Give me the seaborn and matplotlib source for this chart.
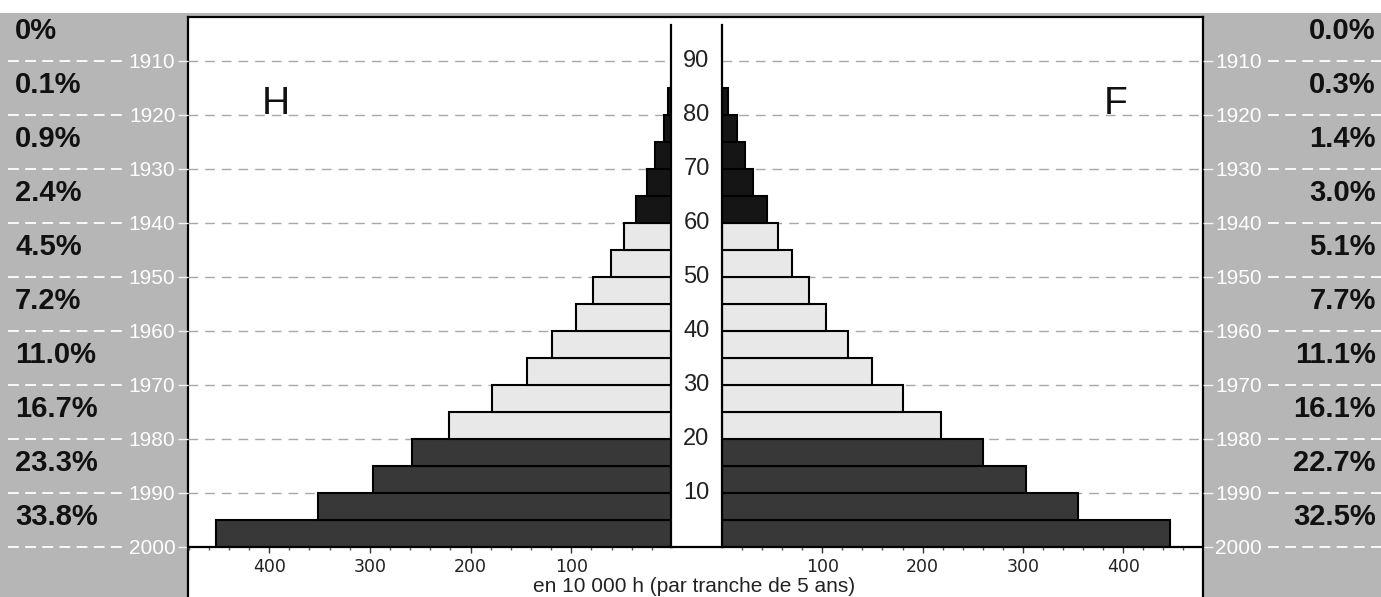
import numpy as np
import pandas as pd
import matplotlib
matplotlib.use('Agg')
import matplotlib.pyplot as plt
import seaborn as sns
from matplotlib import font_manager
from matplotlib.transforms import blended_transform_factory
from matplotlib.lines import Line2D
from matplotlib.patches import Rectangle

# tranches d'age de 5 ans (debut de tranche), effectifs en 10 000 h
debut_tranche = [0, 5, 10, 15, 20, 25, 30, 35, 40, 45, 50, 55, 60, 65, 70, 75, 80]
hommes = [453, 352, 297, 258, 221, 179, 144, 119, 95, 78, 61, 48, 36, 25, 17, 8, 4]
femmes = [447, 355, 303, 260, 218, 180, 150, 126, 104, 87, 70, 56, 45, 31, 23, 15, 6]
groupe = ['0-19 ans'] * 4 + ['20-59 ans'] * 8 + ['60 ans et +'] * 5

# reperes : age et annee de naissance
ages_reperes = [0, 10, 20, 30, 40, 50, 60, 70, 80, 90]
annees = ['2000', '1990', '1980', '1970', '1960', '1950', '1940', '1930', '1920', '1910']

# pourcentages par decennie (du haut vers le bas)
decennies = [90, 80, 70, 60, 50, 40, 30, 20, 10, 0]
pct_hommes = ['0%', '0.1%', '0.9%', '2.4%', '4.5%', '7.2%', '11.0%', '16.7%', '23.3%', '33.8%']
pct_femmes = ['0.0%', '0.3%', '1.4%', '3.0%', '5.1%', '7.7%', '11.1%', '16.1%', '22.7%', '32.5%']

df = pd.DataFrame({'debut': debut_tranche, 'hommes': hommes,
                   'femmes': femmes, 'groupe': groupe})
df['milieu'] = df['debut'] + 2.5

couleurs = {'0-19 ans': '#383838', '20-59 ans': '#e8e8e8', '60 ans et +': '#151515'}
gris = '#b6b6b6'

sns.set_theme(style='ticks')
installees = {f.name for f in font_manager.fontManager.ttflist}
fam = 'Liberation Sans' if 'Liberation Sans' in installees else 'DejaVu Sans'
plt.rcParams['font.family'] = [fam, 'DejaVu Sans']

W, H = 1381, 597
fig = plt.figure(figsize=(W / 100, H / 100), dpi=100)
fig.patch.set_facecolor('white')


def boite(x0, y0, x1, y1):
    return [x0 / W, 1 - y1 / H, (x1 - x0) / W, (y1 - y0) / H]


fig.add_artist(Rectangle((0, 0), 1, 1 - 13 / H, transform=fig.transFigure,
                         facecolor=gris, edgecolor='none', zorder=-1))

# cadre blanc
ax_cadre = fig.add_axes(boite(188, 17, 1203, 597))
ax_cadre.set_facecolor('white')
ax_cadre.set_xticks([])
ax_cadre.set_yticks([])
for s in ['top', 'left', 'right']:
    ax_cadre.spines[s].set_visible(True)
    ax_cadre.spines[s].set_color('black')
    ax_cadre.spines[s].set_linewidth(1.6)
ax_cadre.spines['bottom'].set_visible(False)

age_max = (547 - 17) / 5.4
axL = fig.add_axes(boite(188, 17, 672, 547))
axR = fig.add_axes(boite(722, 17, 1203, 547))

for ax, col in [(axL, 'hommes'), (axR, 'femmes')]:
    ax.patch.set_alpha(0)
    sns.barplot(data=df, x=col, y='milieu', hue='groupe', palette=couleurs,
                orient='h', native_scale=True, width=1, dodge=False,
                errorbar=None, saturation=1, edgecolor='black', linewidth=1.5,
                legend=False, ax=ax)
    ax.set_ylim(0, age_max)
    ax.set_xlabel('')
    ax.set_ylabel('')
    for a in ages_reperes[1:]:
        ax.axhline(a, color='#a8a8a8', lw=1, ls=(0, (7, 5)), zorder=0.5)
    for s in ['top', 'left', 'right']:
        ax.spines[s].set_visible(False)
    ax.spines['bottom'].set_color('black')
    ax.spines['bottom'].set_linewidth(1.6)
    ax.set_xticks([100, 200, 300, 400])
    ax.set_xticks(np.arange(20, 481, 20), minor=True)
    ax.tick_params(axis='x', which='major', bottom=True, length=4, width=1,
                   color='#333333', labelsize=12.5, pad=4, labelcolor='#222222')
    ax.tick_params(axis='x', which='minor', bottom=True, length=2.5, width=1,
                   color='#555555')
    for lbl in ax.get_xticklabels():
        lbl.set_fontfamily('DejaVu Sans')
    ax.set_yticks(ages_reperes)
    ax.set_yticklabels(annees, fontsize=15)
    ax.tick_params(axis='y', length=7, width=1, color='#f2f2f2',
                   labelcolor='white', pad=2)

axL.set_xlim(484 / 1.007, 0)
axR.set_xlim(0, 481 / 1.003)
axL.tick_params(axis='y', left=True, right=False)
axR.yaxis.tick_right()
axR.tick_params(axis='y', right=True, left=False)

# colonne centrale des ages
axC = fig.add_axes(boite(671, 25, 722, 547))
axC.set_facecolor('white')
axC.set_xlim(0, 1)
axC.set_ylim(0, (547 - 25) / 5.4)
axC.set_xticks([])
axC.set_yticks([])
for s in ['left', 'right', 'bottom']:
    axC.spines[s].set_visible(True)
    axC.spines[s].set_color('black')
    axC.spines[s].set_linewidth(1.6)
axC.spines['top'].set_visible(False)
for a in ages_reperes[1:]:
    axC.text(0.5, a, str(a), ha='center', va='center', color='#222222',
             fontsize=17)

# lignes pointillees blanches et pourcentages dans les marges
trL = blended_transform_factory(fig.transFigure, axL.transData)
trR = blended_transform_factory(fig.transFigure, axR.transData)
for a in ages_reperes:
    fig.add_artist(Line2D([8 / W, 125 / W], [a, a], transform=trL,
                          color='white', lw=1.3, ls=(0, (6, 3.5))))
    fig.add_artist(Line2D([1268 / W, 1], [a, a], transform=trR,
                          color='white', lw=1.3, ls=(0, (6, 3.5))))
for d, s in zip(decennies, pct_hommes):
    fig.text(15 / W, d + 5.5, s, transform=trL, ha='left', va='center',
             fontsize=21, fontweight='bold', color='#111111')
for d, s in zip(decennies, pct_femmes):
    fig.text(1376 / W, d + 5.5, s, transform=trR, ha='right', va='center',
             fontsize=21, fontweight='bold', color='#111111')

axL.text(0.182, 0.835, 'H', transform=axL.transAxes, ha='center', va='center',
         fontsize=28, color='#111111')
axR.text(0.819, 0.835, 'F', transform=axR.transAxes, ha='center', va='center',
         fontsize=28, color='#111111')

fig.text(694 / W, 1 - 586 / H, 'en 10 000 h (par tranche de 5 ans)',
         ha='center', va='center', fontsize=15, color='#222222')

fig.savefig('out.png', dpi=100)
